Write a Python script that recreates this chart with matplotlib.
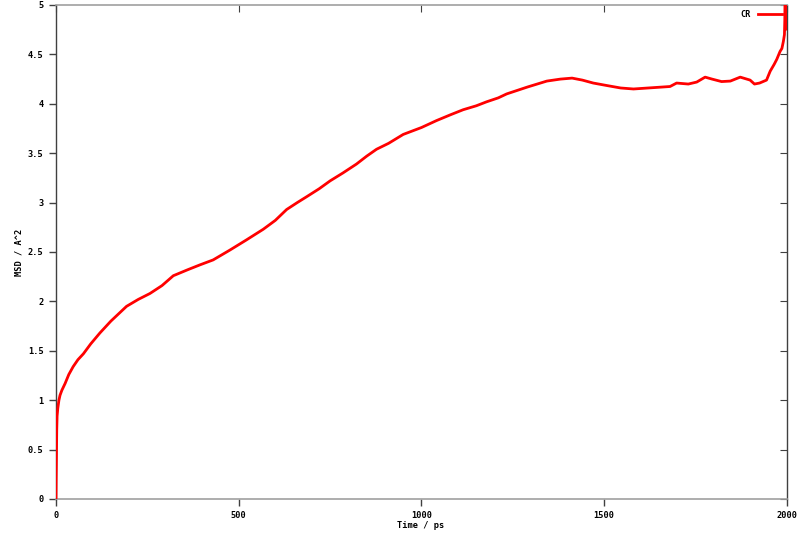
import matplotlib
matplotlib.use("Agg")
import matplotlib.pyplot as plt
from matplotlib.ticker import FuncFormatter

time_ps = [0, 0.5, 1, 2, 3, 5, 8, 11, 16, 25, 35, 47, 60, 75, 95, 120, 150, 193, 225, 257, 290,
           321, 360, 394, 430, 476, 520, 567, 600, 631, 660, 686, 720, 750, 785, 822, 850, 877,
           910, 950, 1000, 1041, 1080, 1114, 1150, 1178, 1210, 1233, 1290, 1343, 1380, 1412,
           1440, 1470, 1507, 1545, 1580, 1620, 1660, 1680, 1698, 1730, 1753, 1776, 1795, 1821,
           1845, 1872, 1899, 1911, 1925, 1944, 1954, 1965, 1972, 1981, 1986, 1990, 1993, 1995,
           1996, 1998, 2000]
msd = [0.0, 0.2, 0.35, 0.7, 0.84, 0.92, 1.0, 1.05, 1.1, 1.17, 1.26, 1.34, 1.41, 1.47, 1.57, 1.68,
       1.80, 1.95, 2.02, 2.08, 2.16, 2.26, 2.32, 2.37, 2.42, 2.52, 2.62, 2.73, 2.82, 2.93, 3.0,
       3.06, 3.14, 3.22, 3.3, 3.39, 3.47, 3.54, 3.6, 3.69, 3.76, 3.83, 3.89, 3.94, 3.98, 4.02,
       4.06, 4.10, 4.17, 4.23, 4.25, 4.26, 4.24, 4.21, 4.185, 4.16, 4.15, 4.16, 4.17, 4.175,
       4.21, 4.2, 4.22, 4.27, 4.25, 4.225, 4.23, 4.27, 4.24, 4.2, 4.21, 4.24, 4.33, 4.40, 4.45,
       4.53, 4.56, 4.63, 4.7, 5.0, 4.75, 4.85, 4.8]

x_ticks = [0, 500, 1000, 1500, 2000]
y_ticks = [0, 0.5, 1, 1.5, 2, 2.5, 3, 3.5, 4, 4.5, 5]

font = {"family": "DejaVu Sans Mono", "size": 6.2, "weight": "bold"}

fig = plt.figure(figsize=(8, 5.33), dpi=100)
ax = fig.add_axes([56 / 800, 1 - 499 / 533, (787 - 56) / 800, (499 - 5) / 533])

ax.plot(time_ps, msd, color="#ff0000", lw=2.0, label="CR", solid_joinstyle="round", zorder=3)

ax.set_xlim(0, 2000)
ax.set_ylim(0, 5)
ax.set_xticks(x_ticks)
ax.set_yticks(y_ticks)
fmt = FuncFormatter(lambda v, p: f"{v:g}")
ax.xaxis.set_major_formatter(fmt)
ax.yaxis.set_major_formatter(fmt)
ax.tick_params(direction="out", length=5, width=1, color="#404040", pad=4)
for lab in ax.get_xticklabels() + ax.get_yticklabels():
    lab.set_fontfamily(font["family"])
    lab.set_fontsize(font["size"])
    lab.set_fontweight(font["weight"])

for s in ["left", "right"]:
    ax.spines[s].set_color("#404040")
    ax.spines[s].set_linewidth(1)
for s in ["top", "bottom"]:
    ax.spines[s].set_color("#a0a0a0")
    ax.spines[s].set_linewidth(1.2)

sx = ax.secondary_xaxis("top")
sx.set_xticks(x_ticks)
sx.tick_params(direction="in", length=5, color="#404040", labeltop=False)
sx.spines["top"].set_visible(False)
sy = ax.secondary_yaxis("right")
sy.set_yticks(y_ticks)
sy.tick_params(direction="in", length=5, color="#404040", labelright=False)
sy.spines["right"].set_visible(False)

fig.text(421 / 800, 1 - 526 / 533, "Time / ps", ha="center", va="center", **font)
fig.text(19 / 800, 1 - 252 / 533, "MSD / A^2", ha="center", va="center", rotation=90, **font)

leg = ax.legend(loc="upper right", frameon=False, markerfirst=False,
                prop={"family": font["family"], "size": font["size"], "weight": "bold"},
                handlelength=2.8, borderaxespad=0.3, borderpad=0.3, handletextpad=0.8)

fig.savefig("out.png", dpi=100)
